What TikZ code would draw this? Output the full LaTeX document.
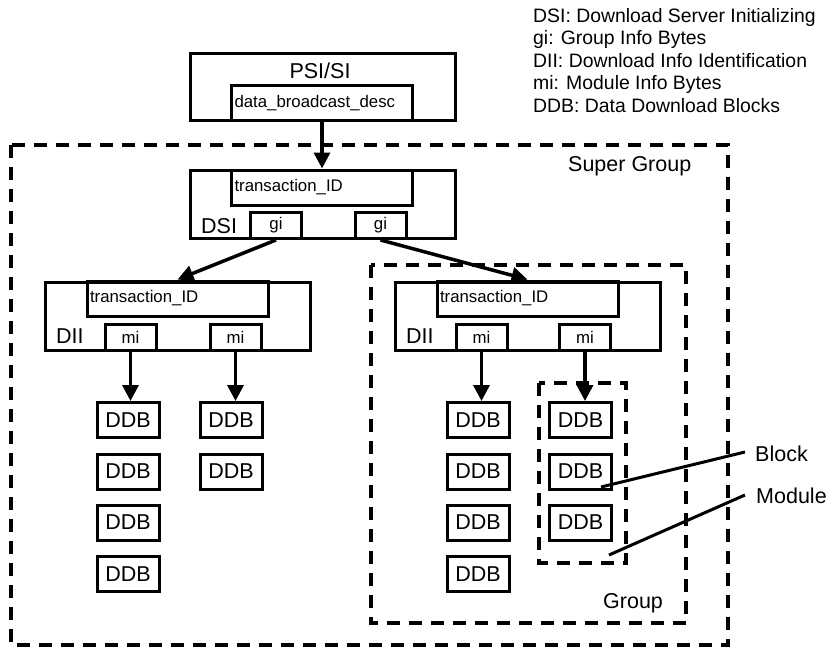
\documentclass[tikz,border=0pt]{standalone}
\usepackage{fontspec}
\setmainfont{Liberation Sans}
\usetikzlibrary{arrows.meta}
\tikzset{
  bigf/.style={font=\fontsize{21.5pt}{25pt}\selectfont},
  smallf/.style={font=\fontsize{16.8pt}{20pt}\selectfont},
  legf/.style={font=\fontsize{19.4pt}{23pt}\selectfont},
  outerbox/.style={draw, line width=3pt, minimum width=265pt, minimum height=68pt, inner sep=0pt},
  innerbox/.style={draw, line width=3pt, minimum width=181pt, minimum height=35pt, text width=175pt, inner xsep=3pt, inner ysep=0pt, align=left, smallf},
  infobox/.style={draw, line width=3pt, minimum width=51pt, minimum height=26pt, inner sep=0pt, smallf},
  ddbbox/.style={draw, line width=3pt, minimum width=62pt, minimum height=35pt, inner sep=0pt, bigf},
  dashbox/.style={draw, line width=4pt, dash pattern=on 13pt off 9pt},
  conn/.style={line width=3.5pt, -{Triangle[length=16pt,width=16pt]}},
  pointer/.style={line width=3pt},
  lbl/.style={inner sep=0pt, anchor=base west},
}
\begin{document}
\begin{tikzpicture}[x=1pt,y=-1pt]
\useasboundingbox (0,0) rectangle (831,648);
% dashed group boxes
\draw[dashbox] (11,145) rectangle (728,645);
\draw[dashbox] (371,265) rectangle (686,623);
\draw[dashbox] (539,383) rectangle (626,563);
\node[lbl, bigf] (sg) at (568,171) {Super Group};
\node[lbl, bigf] (grp) at (603,608) {Group};
% legend
\node[lbl, legf] (leg1) at (533,22) {DSI: Download Server Initializing};
\node[lbl, legf] (leg2) at (533,44.5) {gi: Group Info Bytes};
\node[lbl, legf] (leg3) at (533,67) {DII: Download Info Identification};
\node[lbl, legf] (leg4) at (533,89.5) {mi: Module Info Bytes};
\node[lbl, legf] (leg5) at (533,112) {DDB: Data Download Blocks};
% PSI/SI
\node[outerbox, minimum height=67pt] (psi) at (322.5,86.5) {};
\node[inner sep=0pt, anchor=base, bigf] (psil) at (320,78) {PSI/SI};
\node[innerbox] (dbd) at (322,103) {data\_broadcast\_desc};
% DSI
\node[outerbox] (dsi) at (322.5,204) {};
\node[innerbox] (tid0) at (322,187.5) {transaction\_ID};
\node[lbl, bigf] (dsil) at (201,233) {DSI};
\node[infobox] (gi1) at (276,225.5) {gi};
\node[infobox] (gi2) at (380.5,225.5) {gi};
% DII left
\node[outerbox] (dii1) at (177.5,316) {};
\node[innerbox] (tid1) at (177.5,298.5) {transaction\_ID};
\node[lbl, bigf] (dii1l) at (56,343) {DII};
\node[infobox] (mi11) at (130.5,337) {mi};
\node[infobox] (mi12) at (235.5,337) {mi};
% DII right
\node[outerbox] (dii2) at (527.5,316) {};
\node[innerbox] (tid2) at (527.5,298.5) {transaction\_ID};
\node[lbl, bigf] (dii2l) at (406,343) {DII};
\node[infobox] (mi21) at (481.5,337) {mi};
\node[infobox] (mi22) at (585,337) {mi};
% DDB columns
\node[ddbbox] (a1) at (128,420) {DDB};
\node[ddbbox] (a2) at (128,471.5) {DDB};
\node[ddbbox] (a3) at (128,522.5) {DDB};
\node[ddbbox] (a4) at (128,574) {DDB};
\node[ddbbox] (b1) at (231,420) {DDB};
\node[ddbbox] (b2) at (231,471.5) {DDB};
\node[ddbbox] (c1) at (478,420) {DDB};
\node[ddbbox] (c2) at (478,471.5) {DDB};
\node[ddbbox] (c3) at (478,522.5) {DDB};
\node[ddbbox] (c4) at (478,574) {DDB};
\node[ddbbox] (d1) at (580.5,420) {DDB};
\node[ddbbox] (d2) at (580.5,471.5) {DDB};
\node[ddbbox] (d3) at (580.5,522.5) {DDB};
% connectors
\draw[conn] (dbd.south) -- (tid0.north);
\draw[conn] (gi1.south) -- (tid1.north);
\draw[conn] (gi2.south) -- (tid2.north);
\draw[conn] (mi11.south) -- (mi11.south |- a1.north);
\draw[conn] (mi12.south) -- (mi12.south |- b1.north);
\draw[conn] (mi21.south) -- (mi21.south |- c1.north);
\draw[conn] (mi22.south) -- (mi22.south |- d1.north);
% pointers
\node[lbl, bigf] (blockl) at (755,461) {Block};
\node[lbl, bigf] (modl) at (756,503) {Module};
\coordinate (bs) at (601,487);
\coordinate (be) at (745,452);
\coordinate (ms) at (609,555);
\coordinate (me) at (745,495);
\draw[pointer] (bs) -- (be);
\draw[pointer] (ms) -- (me);
\end{tikzpicture}
\end{document}
